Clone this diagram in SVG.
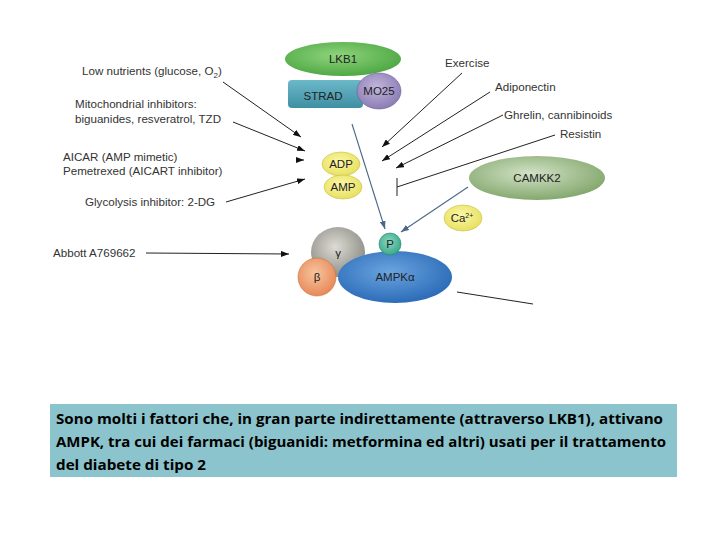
<svg xmlns="http://www.w3.org/2000/svg" width="720" height="540" viewBox="0 0 720 540">
<style>
.lbl{font-family:"Liberation Sans",Arial,sans-serif;font-size:11.6px;fill:#333}
.nt{font-family:"Liberation Sans",Arial,sans-serif;font-size:11.5px;fill:#222;text-anchor:middle}
.ln{stroke:#222;stroke-width:1;fill:none}
.bl{stroke:#4a6888;stroke-width:1.1;fill:none}
.cap{font-family:"Open Sans","Liberation Sans",sans-serif;font-size:14px;font-weight:bold;fill:#000}
</style>
<defs>
<marker id="ah" viewBox="0 0 8 6" refX="8" refY="3" markerWidth="8" markerHeight="6" markerUnits="userSpaceOnUse" orient="auto"><path d="M0,0L8,3L0,6z" fill="#111"/></marker>
<marker id="ahb" viewBox="0 0 8 6" refX="8" refY="3" markerWidth="8" markerHeight="6" markerUnits="userSpaceOnUse" orient="auto"><path d="M0,0L8,3L0,6z" fill="#4a6888"/></marker>
<radialGradient id="gGreen" cx="45%" cy="40%" r="60%"><stop offset="0" stop-color="#8fd47c"/><stop offset="1" stop-color="#4fa845"/></radialGradient>
<linearGradient id="gTeal" x1="0" y1="0" x2="0" y2="1"><stop offset="0" stop-color="#6bb8c8"/><stop offset="1" stop-color="#3f8fa3"/></linearGradient>
<radialGradient id="gPurple" cx="45%" cy="40%" r="60%"><stop offset="0" stop-color="#c2b6dc"/><stop offset="1" stop-color="#8c7db4"/></radialGradient>
<radialGradient id="gYellow" cx="45%" cy="40%" r="60%"><stop offset="0" stop-color="#fbf8a8"/><stop offset="1" stop-color="#e8e060"/></radialGradient>
<radialGradient id="gCam" cx="45%" cy="40%" r="60%"><stop offset="0" stop-color="#d2e2c6"/><stop offset="1" stop-color="#84a86e"/></radialGradient>
<radialGradient id="gGray" cx="45%" cy="40%" r="60%"><stop offset="0" stop-color="#dcdcd4"/><stop offset="1" stop-color="#8e8e88"/></radialGradient>
<radialGradient id="gOrange" cx="45%" cy="40%" r="60%"><stop offset="0" stop-color="#f8c4a0"/><stop offset="1" stop-color="#e88a58"/></radialGradient>
<radialGradient id="gBlue" cx="45%" cy="40%" r="60%"><stop offset="0" stop-color="#6aa4e0"/><stop offset="1" stop-color="#2c6cb8"/></radialGradient>
<radialGradient id="gP" cx="45%" cy="40%" r="60%"><stop offset="0" stop-color="#8ad8c0"/><stop offset="1" stop-color="#3aa888"/></radialGradient>
</defs>
<rect width="720" height="540" fill="#fff"/>

<g id="labels">
<text class="lbl" x="82" y="75">Low nutrients (glucose, O<tspan font-size="8" dy="3">2</tspan><tspan dy="-3">)</tspan></text>
<text class="lbl" x="75" y="108">Mitochondrial inhibitors:</text>
<text class="lbl" x="75" y="123">biguanides, resveratrol, TZD</text>
<text class="lbl" x="63" y="161">AICAR (AMP mimetic)</text>
<text class="lbl" x="63" y="175">Pemetrexed (AICART inhibitor)</text>
<text class="lbl" x="85" y="206">Glycolysis inhibitor: 2-DG</text>
<text class="lbl" x="53" y="257">Abbott A769662</text>
<text class="lbl" x="445" y="67">Exercise</text>
<text class="lbl" x="495" y="91">Adiponectin</text>
<text class="lbl" x="504" y="119">Ghrelin, cannibinoids</text>
<text class="lbl" x="560" y="138">Resistin</text>
</g>

<g id="connectors">
<line class="ln" x1="223" y1="82" x2="301" y2="137" marker-end="url(#ah)"/>
<line class="ln" x1="233" y1="122" x2="305" y2="151" marker-end="url(#ah)"/>
<line class="ln" x1="298" y1="160" x2="304" y2="160" marker-end="url(#ah)"/>
<line class="ln" x1="226" y1="202" x2="305" y2="179" marker-end="url(#ah)"/>
<line class="ln" x1="146" y1="253" x2="289" y2="254" marker-end="url(#ah)"/>
<line class="ln" x1="462" y1="73" x2="382" y2="147" marker-end="url(#ah)"/>
<line class="ln" x1="490" y1="92" x2="382" y2="161" marker-end="url(#ah)"/>
<line class="ln" x1="503" y1="115" x2="396" y2="168" marker-end="url(#ah)"/>
<line class="ln" x1="555" y1="135" x2="397" y2="187"/>
<line class="ln" x1="397" y1="178" x2="397" y2="196"/>
<line class="bl" x1="352" y1="124" x2="385" y2="229" marker-end="url(#ahb)"/>
<line class="bl" x1="468" y1="187" x2="401" y2="232" marker-end="url(#ahb)"/>
<line class="ln" x1="457" y1="292" x2="533" y2="304"/>
</g>

<g id="LKB1"><ellipse cx="343" cy="59" rx="58" ry="17" fill="url(#gGreen)"/><text class="nt" x="343" y="63">LKB1</text></g>
<g id="STRAD"><rect x="288" y="80" width="75" height="28" rx="4" fill="url(#gTeal)"/><text class="nt" x="323" y="100">STRAD</text></g>
<g id="MO25"><ellipse cx="379" cy="91" rx="22" ry="18" fill="url(#gPurple)" stroke="#6e6294" stroke-width="0.6"/><text class="nt" x="379" y="95">MO25</text></g>
<g id="ADP"><ellipse cx="341" cy="164" rx="19" ry="12" fill="url(#gYellow)" stroke="#c8c040" stroke-width="0.6"/><text class="nt" x="341" y="168">ADP</text></g>
<g id="AMP"><ellipse cx="343" cy="187" rx="19" ry="12" fill="url(#gYellow)" stroke="#c8c040" stroke-width="0.6"/><text class="nt" x="343" y="191">AMP</text></g>
<g id="CAMKK2"><ellipse cx="537" cy="178" rx="68" ry="22" fill="url(#gCam)"/><text class="nt" x="537" y="182">CAMKK2</text></g>
<g id="Ca"><ellipse cx="463" cy="218" rx="19" ry="13" fill="url(#gYellow)" stroke="#c8c040" stroke-width="0.6"/><text class="nt" x="462" y="222" font-size="10.5">Ca<tspan font-size="7" dy="-4">2+</tspan></text></g>
<g id="gamma"><ellipse cx="338" cy="252" rx="27" ry="25" fill="url(#gGray)"/><text class="nt" x="338" y="257" font-size="11">γ</text></g>
<g id="AMPKa"><ellipse cx="395" cy="277" rx="57" ry="26" fill="url(#gBlue)"/><text class="nt" x="395" y="281">AMPKα</text></g>
<g id="beta"><circle cx="317" cy="277" r="19" fill="url(#gOrange)" stroke="#c87040" stroke-width="0.6"/><text class="nt" x="317" y="281">β</text></g>
<g id="P"><circle cx="390" cy="244" r="11" fill="url(#gP)" stroke="#2a8870" stroke-width="0.6"/><text class="nt" x="390" y="248">P</text></g>

<g id="caption">
<rect x="50" y="404" width="627" height="73" fill="#8bc4cc"/>
<text class="cap" x="56" y="424" textLength="607" lengthAdjust="spacingAndGlyphs">Sono molti i fattori che, in gran parte indirettamente (attraverso LKB1), attivano</text>
<text class="cap" x="56" y="447" textLength="610" lengthAdjust="spacingAndGlyphs">AMPK, tra cui dei farmaci (biguanidi: metformina ed altri) usati per il trattamento</text>
<text class="cap" x="56" y="470" textLength="150" lengthAdjust="spacingAndGlyphs">del diabete di tipo 2</text>
</g>
</svg>
